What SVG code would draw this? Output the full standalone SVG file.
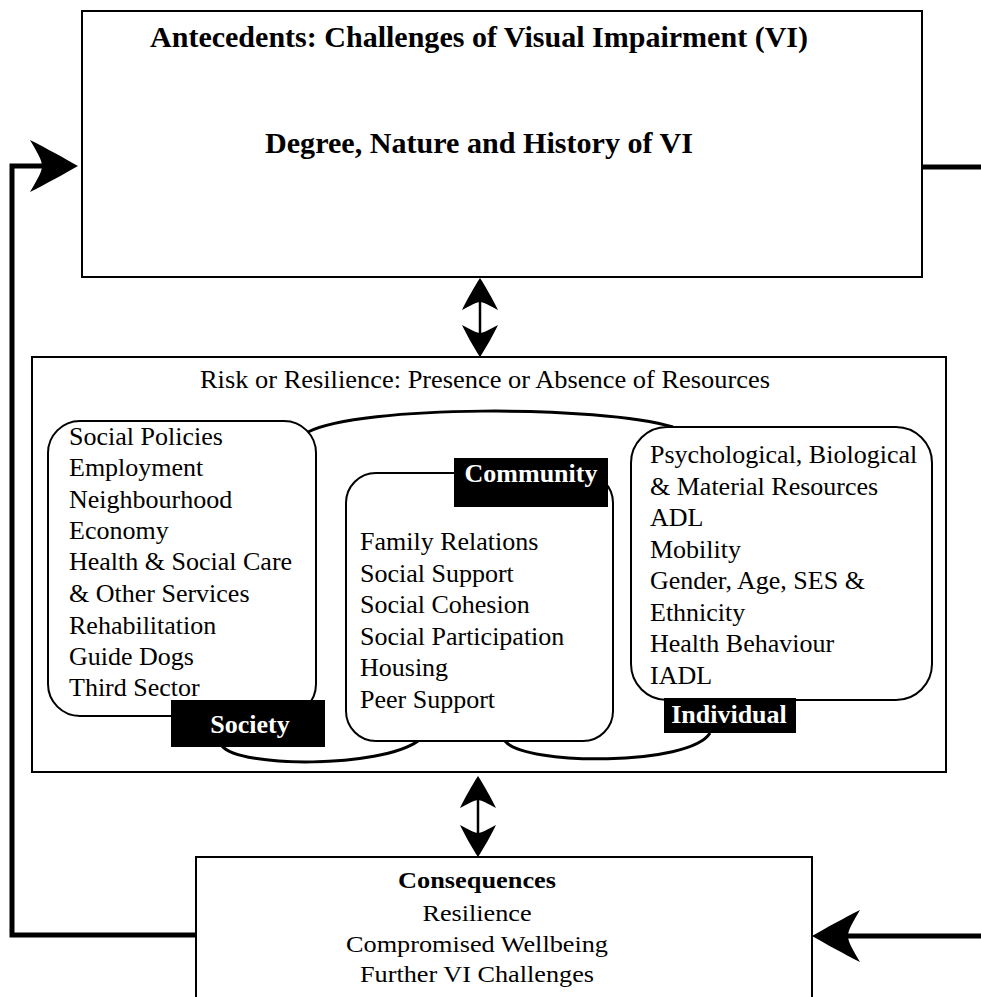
<svg xmlns="http://www.w3.org/2000/svg" width="981" height="997" viewBox="0 0 981 997">
<style>
.box{fill:#fff;stroke:#000;stroke-width:2}
.rbox{fill:#fff;stroke:#000;stroke-width:2}
.lab{fill:#000}
.t{font-family:"Liberation Serif","Times New Roman",serif;fill:#000}
.b{font-weight:bold}
.w{fill:#fff;font-weight:bold;font-size:26px}
.item{font-size:26px}
.curve{fill:none;stroke:#000;stroke-width:3}
.loop{fill:none;stroke:#000;stroke-width:5}
.dbl{fill:none;stroke:#000;stroke-width:2.5}
</style>
<defs>
<marker id="big" viewBox="-50 -28 52 56" refX="-36" refY="0" markerWidth="52" markerHeight="56" markerUnits="userSpaceOnUse" orient="auto-start-reverse">
<path d="M0,0 C-14,-8 -32,-18 -48,-26 C-41,-14 -36,-6 -36,0 C-36,6 -41,14 -48,26 C-32,18 -14,8 0,0Z" fill="#000"/>
</marker>
<marker id="small" viewBox="-34 -19 36 38" refX="-24" refY="0" markerWidth="36" markerHeight="38" markerUnits="userSpaceOnUse" orient="auto-start-reverse">
<path d="M0,0 C-9,-6 -22,-13 -32,-18 C-28,-10 -24,-4 -24,0 C-24,4 -28,10 -32,18 C-22,13 -9,6 0,0Z" fill="#000"/>
</marker>
</defs>

<g id="connectors">
<path class="loop" d="M196,935 H12 V166 H42" marker-end="url(#big)"/>
<path class="loop" d="M922,167 H981"/>
<path class="loop" d="M981,936 H848" marker-end="url(#big)"/>
<path class="dbl" d="M480,302 V333" marker-start="url(#small)" marker-end="url(#small)"/>
<path class="dbl" d="M478,800 V833" marker-start="url(#small)" marker-end="url(#small)"/>
</g>

<g id="antecedents">
<rect class="box" x="82" y="11" width="840" height="266"/>
<text class="t b" x="479" y="47" font-size="30" text-anchor="middle" textLength="658" lengthAdjust="spacingAndGlyphs">Antecedents: Challenges of Visual Impairment (VI)</text>
<text class="t b" x="479" y="153" font-size="30" text-anchor="middle" textLength="428" lengthAdjust="spacingAndGlyphs">Degree, Nature and History of VI</text>
</g>

<g id="resources">
<rect class="box" x="32" y="357" width="914" height="415"/>
<text class="t" x="485" y="388" font-size="25" text-anchor="middle" textLength="570" lengthAdjust="spacingAndGlyphs">Risk or Resilience: Presence or Absence of Resources</text>
</g>

<g id="links">
<path class="curve" d="M308,432 C360,405 600,405 673,427"/>
<path class="curve" d="M222,746 C240,768 380,768 418,741"/>
<path class="curve" d="M505,741 C525,766 690,766 710,733"/>
</g>

<g id="society">
<rect class="rbox" x="48" y="421" width="268" height="295" rx="32" ry="32"/>
<text class="t item" x="69" y="445">Social Policies</text>
<text class="t item" x="69" y="476">Employment</text>
<text class="t item" x="69" y="508">Neighbourhood</text>
<text class="t item" x="69" y="539">Economy</text>
<text class="t item" x="69" y="570">Health &amp; Social Care</text>
<text class="t item" x="69" y="602">&amp; Other Services</text>
<text class="t item" x="69" y="634">Rehabilitation</text>
<text class="t item" x="69" y="665">Guide Dogs</text>
<text class="t item" x="69" y="696">Third Sector</text>
<rect class="lab" x="171" y="700" width="154" height="47"/>
<text class="t w" x="250" y="733" text-anchor="middle">Society</text>
</g>

<g id="community">
<rect class="rbox" x="346" y="473" width="267" height="268" rx="30" ry="30"/>
<text class="t item" x="360" y="550">Family Relations</text>
<text class="t item" x="360" y="582">Social Support</text>
<text class="t item" x="360" y="613">Social Cohesion</text>
<text class="t item" x="360" y="645">Social Participation</text>
<text class="t item" x="360" y="676">Housing</text>
<text class="t item" x="360" y="708">Peer Support</text>
<rect class="lab" x="454" y="458" width="154" height="49"/>
<text class="t w" x="531" y="482" text-anchor="middle">Community</text>
</g>

<g id="individual">
<rect class="rbox" x="631" y="427" width="301" height="273" rx="36" ry="36"/>
<text class="t item" x="650" y="463">Psychological, Biological</text>
<text class="t item" x="650" y="495">&amp; Material Resources</text>
<text class="t item" x="650" y="526">ADL</text>
<text class="t item" x="650" y="558">Mobility</text>
<text class="t item" x="650" y="589">Gender, Age, SES &amp;</text>
<text class="t item" x="650" y="621">Ethnicity</text>
<text class="t item" x="650" y="652">Health Behaviour</text>
<text class="t item" x="650" y="684">IADL</text>
<rect class="lab" x="664" y="698" width="132" height="35"/>
<text class="t w" x="729" y="723" text-anchor="middle">Individual</text>
</g>

<g id="consequences">
<rect class="box" x="196" y="857" width="616" height="142"/>
<text class="t b" x="477" y="888" font-size="24" text-anchor="middle" textLength="158" lengthAdjust="spacingAndGlyphs">Consequences</text>
<text class="t" x="477" y="921" font-size="24" text-anchor="middle" textLength="109" lengthAdjust="spacingAndGlyphs">Resilience</text>
<text class="t" x="477" y="952" font-size="24" text-anchor="middle" textLength="262" lengthAdjust="spacingAndGlyphs">Compromised Wellbeing</text>
<text class="t" x="477" y="982" font-size="24" text-anchor="middle" textLength="234" lengthAdjust="spacingAndGlyphs">Further VI Challenges</text>
</g>
</svg>
